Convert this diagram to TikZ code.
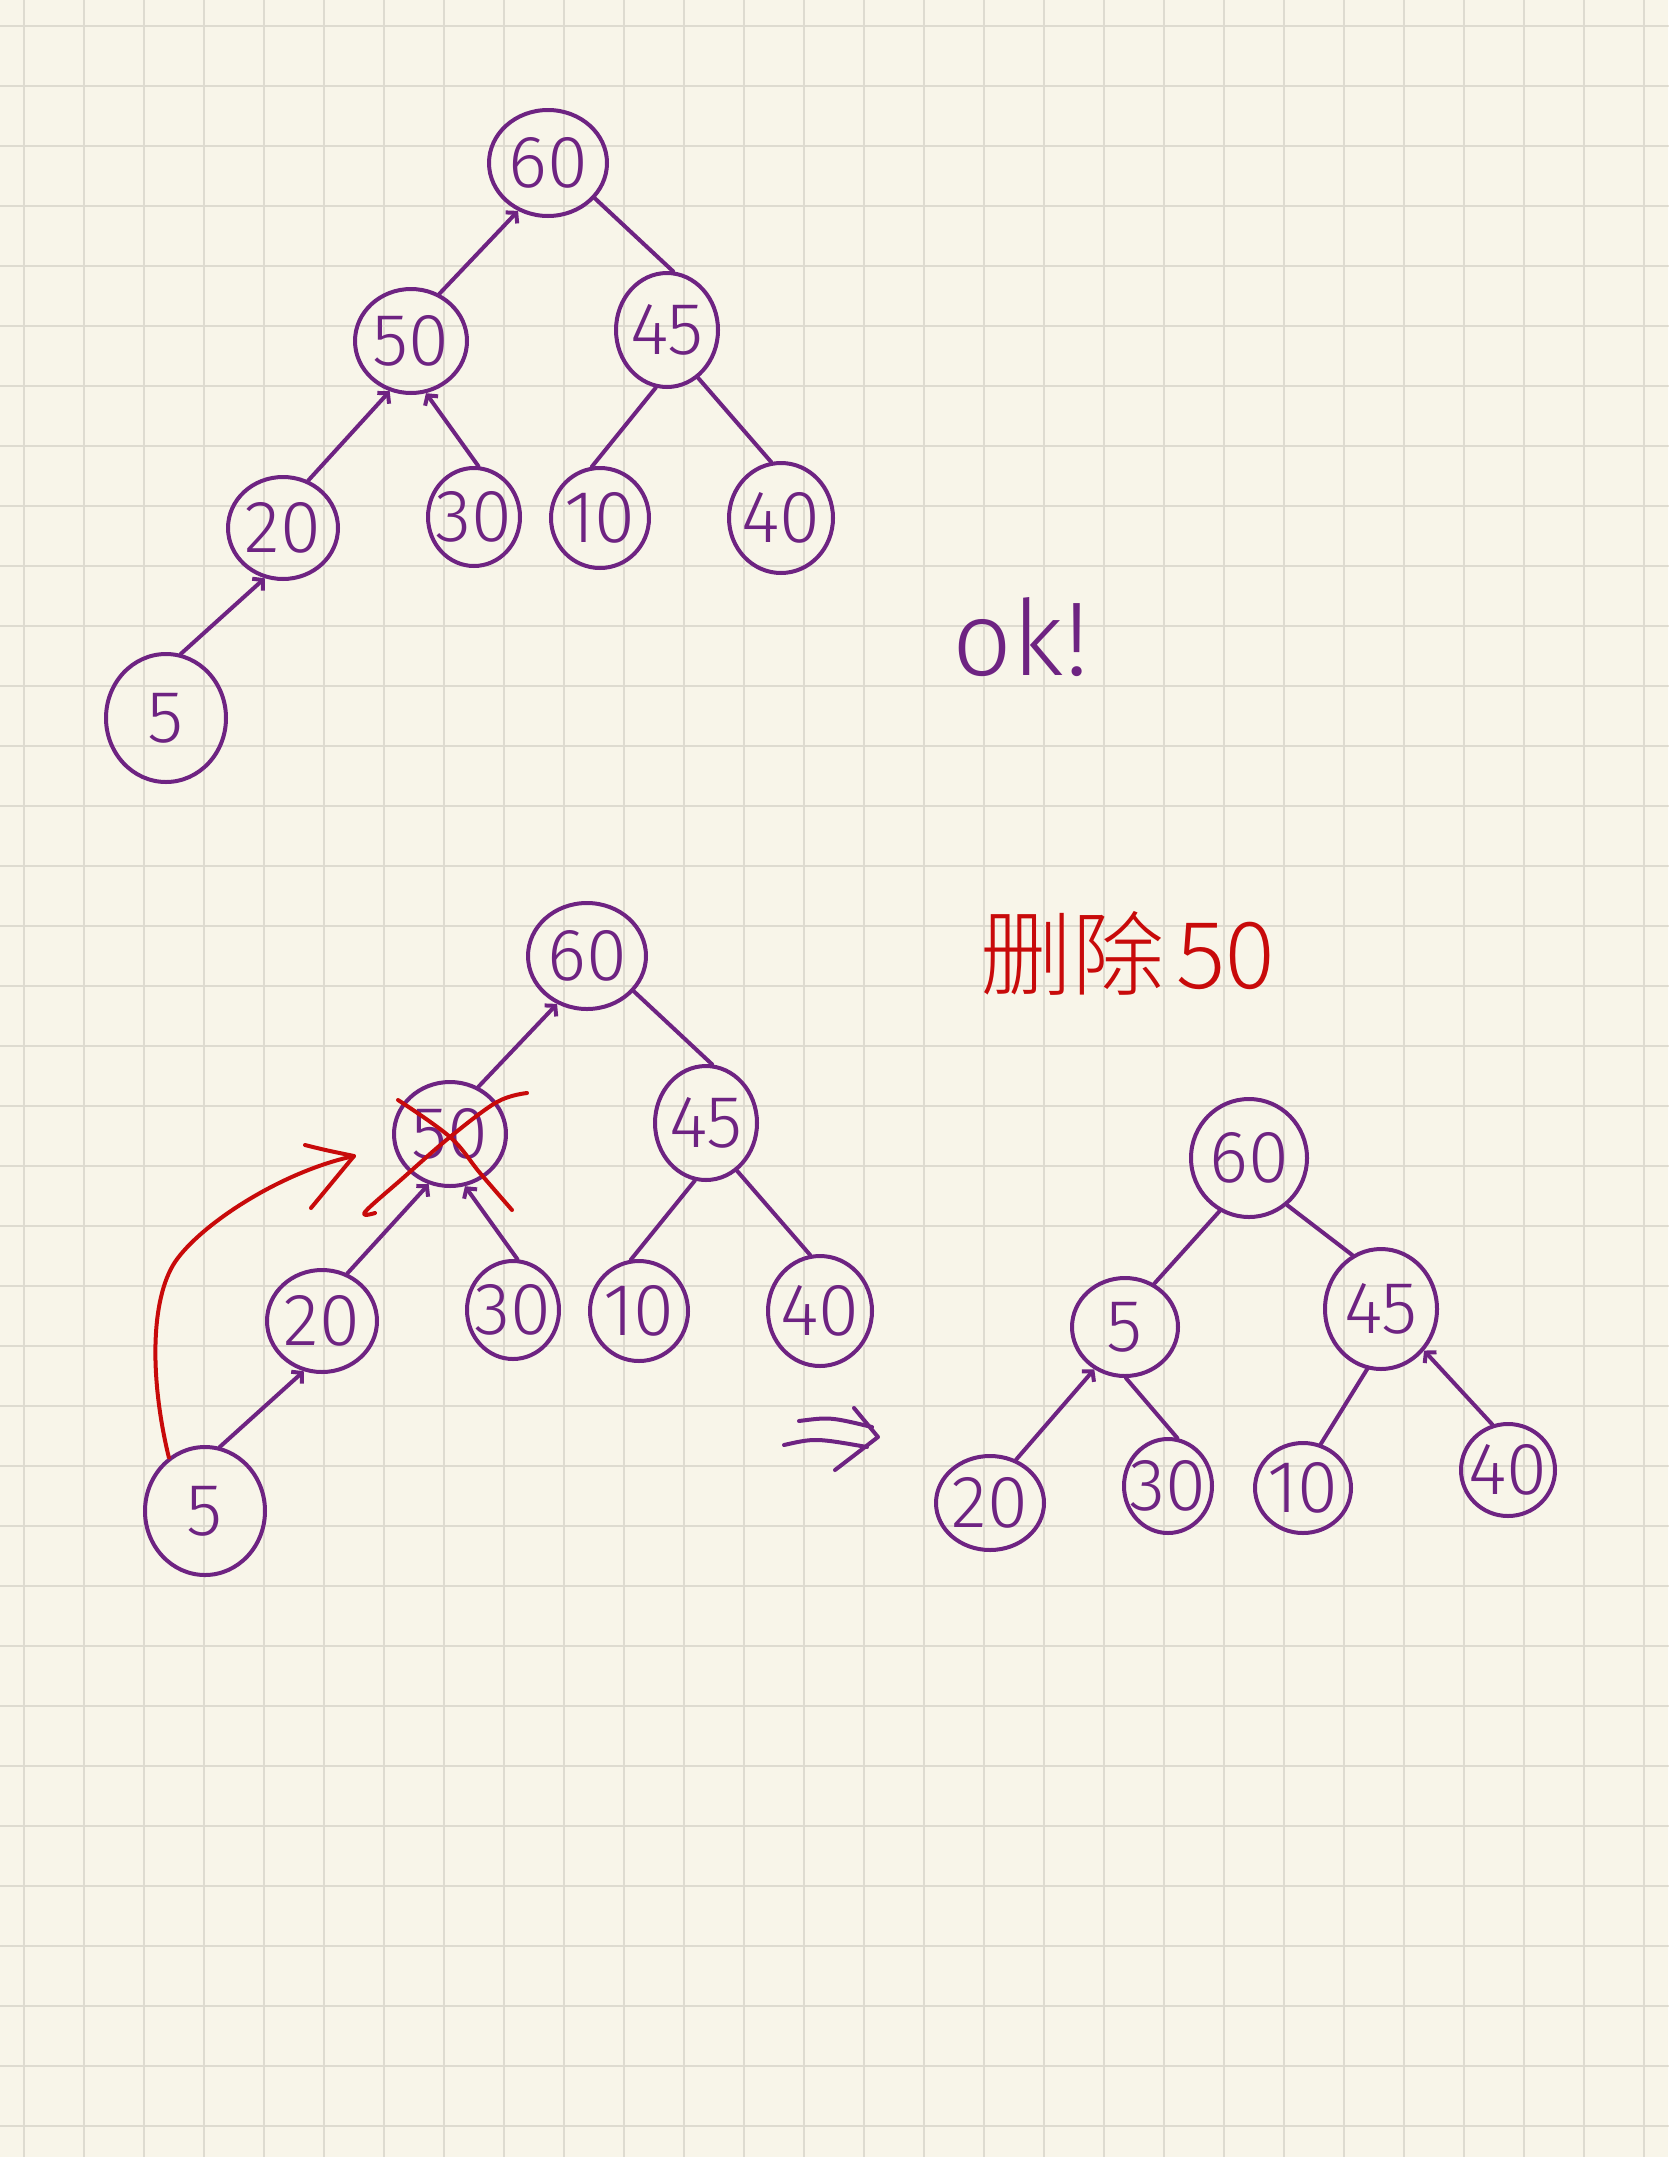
\documentclass[tikz,border=0pt]{standalone}
\usepackage{fontspec}
\setmainfont{Fira Sans}[UprightFont=* Light]
\newfontfamily\cjkfont{Noto Sans CJK SC Light}
\usetikzlibrary{shapes.geometric,arrows.meta}
\definecolor{pen}{RGB}{110,35,130}
\definecolor{redpen}{RGB}{200,10,10}
\definecolor{paper}{RGB}{248,245,233}
\definecolor{gridc}{RGB}{222,219,208}
\newcommand{\nodetxt}[1]{\makebox[0pt]{#1}}
\begin{document}
\begin{tikzpicture}[x=1pt,y=-1pt,line cap=round,line join=round,
  bnode/.style={ellipse,draw=pen,line width=4pt,inner sep=0pt,text=pen,font=\fontsize{74}{74}\selectfont},
  link/.style={draw=pen,line width=4pt},
  tipped/.style={-{Straight Barb[length=7pt,width=16pt]}},
  redline/.style={draw=redpen,line width=4pt},
  gridline/.style={draw=gridc,line width=2.5pt}]

\fill[paper] (0,0) rectangle (1668,2157);
\useasboundingbox (0,0) rectangle (1668,2157);
\foreach \i in {0,...,27} \draw[gridline] ({24+60*\i},0) -- ({24+60*\i},2157);
\foreach \j in {0,...,35} \draw[gridline] (0,{26+60*\j}) -- (1668,{26+60*\j});

% ---------- tree 1 ----------
\node[bnode,minimum width=118pt,minimum height=106pt] (t1a) at (548,163) {\nodetxt{60}};
\node[bnode,minimum width=112pt,minimum height=104pt] (t1b) at (411,341) {\nodetxt{50}};
\node[bnode,minimum width=102pt,minimum height=114pt] (t1c) at (667,330) {\nodetxt{45}};
\node[bnode,minimum width=110pt,minimum height=102pt] (t1d) at (283,528) {\nodetxt{20}};
\node[bnode,minimum width=92pt,minimum height=98pt] (t1e) at (474,517) {\nodetxt{30}};
\node[bnode,minimum width=98pt,minimum height=100pt] (t1f) at (600,518) {\nodetxt{10}};
\node[bnode,minimum width=104pt,minimum height=110pt] (t1g) at (781,518) {\nodetxt{40}};
\node[bnode,minimum width=120pt,minimum height=128pt] (t1h) at (166,718) {\nodetxt{5}};

\draw[link,tipped] (t1b.59) -- (t1a.-122);
\draw[link] (t1a.-37) -- (t1c.84);
\draw[link,tipped] (t1d.62) -- (t1b.-113);
\draw[link,tipped] (t1e.85) -- (t1b.-74);
\draw[link] (t1c.-101) -- (t1f.99);
\draw[link] (t1c.-57) -- (t1g.100);
\draw[link,tipped] (t1h.77) -- (t1d.-110);

\node[text=pen,font=\fontsize{105}{105}\selectfont,anchor=base] (ok) at (1021,675) {ok!};

% ---------- tree 2 ----------
\node[bnode,minimum width=118pt,minimum height=106pt] (t2a) at (587,956) {\nodetxt{60}};
\node[bnode,minimum width=112pt,minimum height=104pt] (t2b) at (450,1134) {\nodetxt{50}};
\node[bnode,minimum width=102pt,minimum height=114pt] (t2c) at (706,1123) {\nodetxt{45}};
\node[bnode,minimum width=110pt,minimum height=102pt] (t2d) at (322,1321) {\nodetxt{20}};
\node[bnode,minimum width=92pt,minimum height=98pt] (t2e) at (513,1310) {\nodetxt{30}};
\node[bnode,minimum width=98pt,minimum height=100pt] (t2f) at (639,1311) {\nodetxt{10}};
\node[bnode,minimum width=104pt,minimum height=110pt] (t2g) at (820,1311) {\nodetxt{40}};
\node[bnode,minimum width=120pt,minimum height=128pt] (t2h) at (205,1511) {\nodetxt{5}};

\draw[link,tipped] (t2b.59) -- (t2a.-122);
\draw[link] (t2a.-37) -- (t2c.84);
\draw[link,tipped] (t2d.62) -- (t2b.-113);
\draw[link,tipped] (t2e.85) -- (t2b.-74);
\draw[link] (t2c.-101) -- (t2f.99);
\draw[link] (t2c.-57) -- (t2g.100);
\draw[link,tipped] (t2h.77) -- (t2d.-110);

\node[text=redpen,font=\cjkfont\fontsize{92}{92}\selectfont,anchor=base] (del) at (1128,988) {删除\hspace{12pt}50};

% red cross over 50
\draw[redline] plot[smooth,tension=0.6] coordinates {(398,1100) (450,1137) (480,1173) (512,1210)};
\draw[redline] plot[smooth,tension=0.6] coordinates {(375,1213) (365,1212) (403,1178) (450,1137) (497,1102) (527,1093)};

% red move arrow from 5 up to 50's place
\coordinate (rtip) at (354,1156);
\draw[redline] (t2h.124) .. controls (150,1380) and (150,1300) .. (175,1262) .. controls (200,1225) and (280,1172) .. (rtip);
\draw[redline] (305,1145) .. controls (325,1150) .. (rtip) -- (311,1208);

% double arrow
\draw[link] (799,1421) .. controls (830,1417) .. (872,1427);
\draw[link] (784,1445) .. controls (815,1438) .. (867,1447);
\draw[link] (854,1408) -- (878,1437) -- (835,1470);

% ---------- tree 3 ----------
\node[bnode,minimum width=116pt,minimum height=118pt] (t3a) at (1249,1158) {\nodetxt{60}};
\node[bnode,minimum width=106pt,minimum height=98pt] (t3b) at (1125,1327) {\nodetxt{5}};
\node[bnode,minimum width=112pt,minimum height=120pt] (t3c) at (1381,1309) {\nodetxt{45}};
\node[bnode,minimum width=108pt,minimum height=94pt] (t3d) at (990,1503) {\nodetxt{20}};
\node[bnode,minimum width=88pt,minimum height=94pt] (t3e) at (1168,1486) {\nodetxt{30}};
\node[bnode,minimum width=96pt,minimum height=90pt] (t3f) at (1303,1488) {\nodetxt{10}};
\node[bnode,minimum width=94pt,minimum height=92pt] (t3g) at (1508,1470) {\nodetxt{40}};

\draw[link] (t3a.-119) -- (t3b.56);
\draw[link] (t3a.-51) -- (t3c.118);
\draw[link,tipped] (t3d.59) -- (t3b.-126);
\draw[link] (t3b.-89) -- (t3e.79);
\draw[link] (t3c.-103) -- (t3f.68);
\draw[link,tipped] (t3g.109) -- (t3c.-44);
\end{tikzpicture}
\end{document}
